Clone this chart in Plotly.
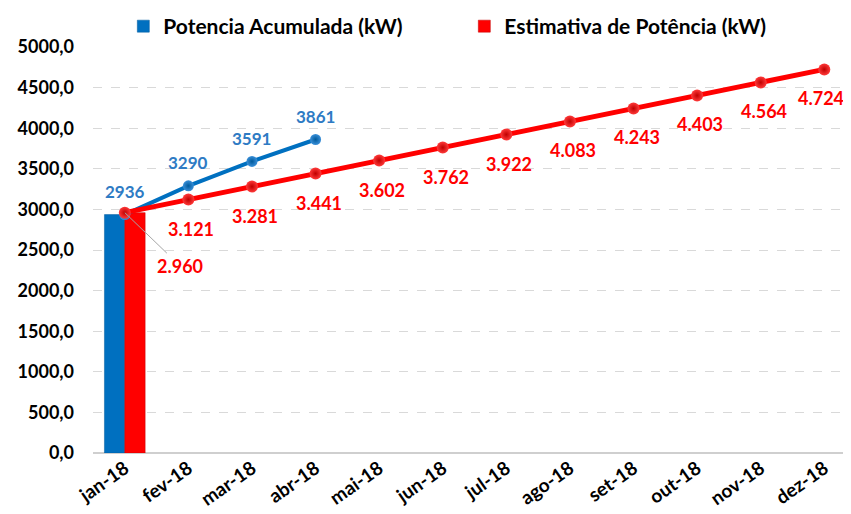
import plotly.graph_objects as go

categories = ["jan-18", "fev-18", "mar-18", "abr-18", "mai-18", "jun-18",
              "jul-18", "ago-18", "set-18", "out-18", "nov-18", "dez-18"]
acumulada = [2936, 3290, 3591, 3861]
estimativa = [2960, 3121, 3281, 3441, 3602, 3762, 3922, 4083, 4243, 4403, 4564, 4724]
bar_acumulada = [2936]
bar_estimativa = [2960]
y_ticks = [0, 500, 1000, 1500, 2000, 2500, 3000, 3500, 4000, 4500, 5000]

BLUE = "#0070C0"
BLUE_TXT = "#2E7BC4"
RED = "#FF0000"
FONT = "Lato"

fig = go.Figure()
fig.add_trace(go.Bar(x=categories[:1], y=bar_acumulada, name="Potencia Acumulada (kW)",
                     marker=dict(color=BLUE, line=dict(color="#005a9c", width=0.5))))
fig.add_trace(go.Bar(x=categories[:1], y=bar_estimativa, name="Estimativa de Potência (kW)",
                     marker=dict(color=RED, line=dict(color="#c00000", width=0.5))))
fig.add_trace(go.Scatter(x=categories[:len(acumulada)], y=acumulada, mode="lines+markers",
                         line=dict(color=BLUE, width=4),
                         marker=dict(size=11, color="#3a8fd8",
                                     gradient=dict(type="radial", color="#005a9c")),
                         showlegend=False, hoverinfo="skip"))
fig.add_trace(go.Scatter(x=categories, y=estimativa, mode="lines+markers",
                         line=dict(color=RED, width=5),
                         marker=dict(size=12, color="#ff3a3a",
                                     gradient=dict(type="radial", color="#c00000")),
                         showlegend=False, hoverinfo="skip"))

annotations = []
for c, v in zip(categories, acumulada):
    annotations.append(dict(x=c, y=v, text=str(v), showarrow=False, yshift=23,
                            font=dict(color=BLUE_TXT, size=17, family=FONT, weight="bold")))
n = len(estimativa)
for i, (c, v) in enumerate(zip(categories, estimativa)):
    txt = f"{v:,}".replace(",", ".")
    if i == 0:
        annotations.append(dict(x=c, y=v, text=txt, showarrow=True, ax=55, ay=53,
                                arrowhead=0, arrowwidth=1, arrowcolor="#a6a6a6", standoff=0,
                                font=dict(color=RED, size=18, family=FONT, weight="bold")))
    else:
        annotations.append(dict(x=c, y=v, text=txt, showarrow=False, yshift=-29,
                                xshift=(-3 if i == n - 1 else 3),
                                font=dict(color=RED, size=18, family=FONT, weight="bold")))

fig.update_layout(
    width=843, height=506,
    margin=dict(l=85, r=0, t=39, b=61, autoexpand=False),
    paper_bgcolor="white", plot_bgcolor="white",
    separators=",.",
    font=dict(family=FONT, size=17, color="black", weight="bold"),
    barmode="group", bargap=0.36, bargroupgap=0,
    legend=dict(orientation="h", x=0.04, xanchor="left", y=1.0, yanchor="bottom",
                font=dict(size=21, family=FONT, color="black", weight="bold"),
                entrywidth=296, entrywidthmode="pixels", itemwidth=30,
                bgcolor="rgba(0,0,0,0)"),
    annotations=annotations,
    xaxis=dict(type="category", categoryarray=categories, range=[-0.5, 11.42],
               tickangle=-35, showgrid=False, showline=False, zeroline=False,
               tickfont=dict(size=19, family=FONT, weight="bold"), ticks=""),
    yaxis=dict(range=[0, 5000], tickvals=y_ticks, tickformat=".1f",
               showgrid=True, gridcolor="#d9d9d9", griddash="dash", gridwidth=1,
               zeroline=True, zerolinecolor="#cfcfcf", zerolinewidth=1.5,
               showline=False, ticks="", ticklabelstandoff=18,
               tickfont=dict(size=18, family=FONT, weight="bold")),
)
fig.write_html("out.html")
